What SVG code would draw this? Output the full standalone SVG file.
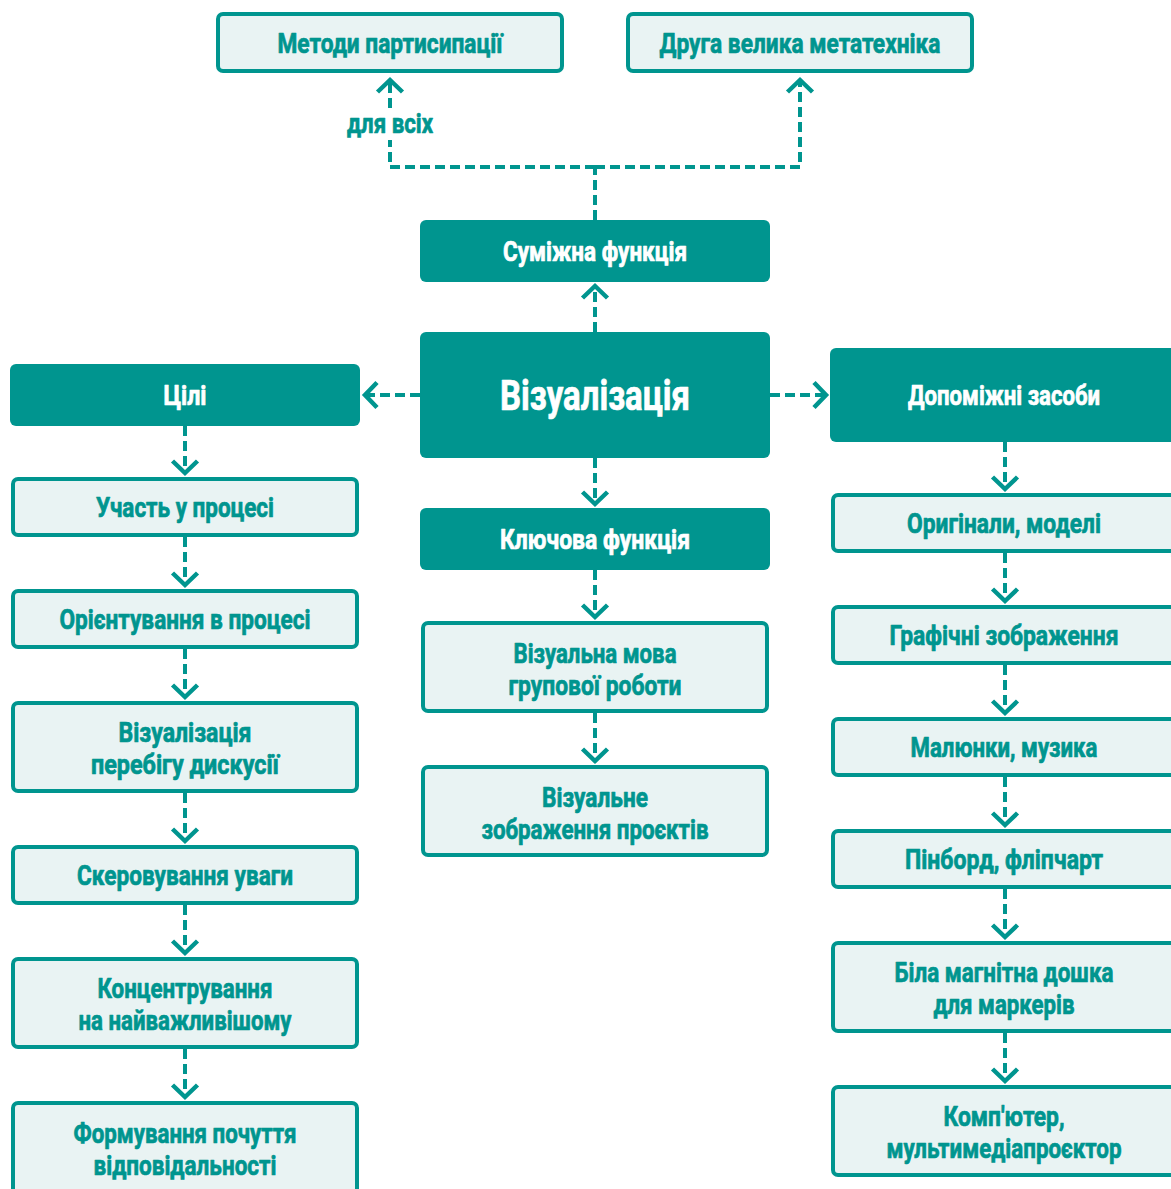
<svg xmlns="http://www.w3.org/2000/svg" width="1171" height="1189" viewBox="0 0 1171 1189">
  <defs>
    <style>
      .dark rect { fill: #00958f; }
      .light rect { fill: #e9f3f3; stroke: #00958f; stroke-width: 4; }
      text { font-family: Roboto, "Noto Sans", "DejaVu Sans", sans-serif; font-weight: 700; font-size: 27px; text-anchor: middle; stroke-width: 0.7; stroke-linejoin: round; }
      .dark text { fill: #ffffff; stroke: #ffffff; }
      .light text, .label { fill: #00958f; stroke: #00958f; }
      .big { font-size: 42px; }
      .edge { fill: none; stroke: #00958f; stroke-width: 4; stroke-dasharray: 10 5; }
    </style>
    <marker id="head" markerUnits="userSpaceOnUse" viewBox="-20 -20 40 40" markerWidth="40" markerHeight="40" refX="0" refY="0" orient="auto">
      <path d="M-12,-12.5 L0,0 L-12,12.5" fill="none" stroke="#00958f" stroke-width="4.5" stroke-dasharray="none"/>
    </marker>
  </defs>
  <rect width="1171" height="1189" fill="#ffffff"/>

  <!-- connectors -->
  <g id="connectors">
    <path class="edge" d="M595,220 V167"/>
    <path class="edge" d="M595,167 H390 V140"/>
    <path class="edge" d="M390,108 V80" marker-end="url(#head)"/>
    <path class="edge" d="M595,167 H800 V80" marker-end="url(#head)"/>
    <path class="edge" d="M595,332 V286" marker-end="url(#head)"/>
    <path class="edge" d="M420,395 H365" marker-end="url(#head)"/>
    <path class="edge" d="M770,395 H826" marker-end="url(#head)"/>
    <path class="edge" d="M595,458 V504" marker-end="url(#head)"/>
    <path class="edge" d="M595,570 V617" marker-end="url(#head)"/>
    <path class="edge" d="M595,713 V761" marker-end="url(#head)"/>
    <path class="edge" d="M185,426 V473" marker-end="url(#head)"/>
    <path class="edge" d="M185,537 V585" marker-end="url(#head)"/>
    <path class="edge" d="M185,649 V697" marker-end="url(#head)"/>
    <path class="edge" d="M185,793 V841" marker-end="url(#head)"/>
    <path class="edge" d="M185,905 V953" marker-end="url(#head)"/>
    <path class="edge" d="M185,1049 V1097" marker-end="url(#head)"/>
    <path class="edge" d="M1005,442 V489" marker-end="url(#head)"/>
    <path class="edge" d="M1005,553 V601" marker-end="url(#head)"/>
    <path class="edge" d="M1005,665 V713" marker-end="url(#head)"/>
    <path class="edge" d="M1005,777 V825" marker-end="url(#head)"/>
    <path class="edge" d="M1005,889 V937" marker-end="url(#head)"/>
    <path class="edge" d="M1005,1033 V1081" marker-end="url(#head)"/>
    <text class="label" x="390" y="133" textLength="86" lengthAdjust="spacingAndGlyphs">для всіх</text>
  </g>

  <!-- top row -->
  <g id="n-metody" class="light">
    <rect x="218" y="14" width="344" height="57" rx="5"/>
    <text x="390" y="53" textLength="225" lengthAdjust="spacingAndGlyphs">Методи партисипації</text>
  </g>
  <g id="n-metatekhnika" class="light">
    <rect x="628" y="14" width="344" height="57" rx="5"/>
    <text x="800" y="53" textLength="281" lengthAdjust="spacingAndGlyphs">Друга велика метатехніка</text>
  </g>

  <!-- centre column -->
  <g id="n-sumizhna" class="dark">
    <rect x="420" y="220" width="350" height="62" rx="6"/>
    <text x="595" y="261" textLength="184" lengthAdjust="spacingAndGlyphs">Суміжна функція</text>
  </g>
  <g id="n-vizualizatsiia" class="dark">
    <rect x="420" y="332" width="350" height="126" rx="6"/>
    <text class="big" x="595" y="410" textLength="190" lengthAdjust="spacingAndGlyphs">Візуалізація</text>
  </g>
  <g id="n-kliuchova" class="dark">
    <rect x="420" y="508" width="350" height="62" rx="6"/>
    <text x="595" y="549" textLength="190" lengthAdjust="spacingAndGlyphs">Ключова функція</text>
  </g>
  <g id="n-mova" class="light">
    <rect x="423" y="623" width="344" height="88" rx="5"/>
    <text x="595" y="663" textLength="163" lengthAdjust="spacingAndGlyphs">Візуальна мова</text>
    <text x="595" y="695" textLength="173" lengthAdjust="spacingAndGlyphs">групової роботи</text>
  </g>
  <g id="n-proiekty" class="light">
    <rect x="423" y="767" width="344" height="88" rx="5"/>
    <text x="595" y="807" textLength="106" lengthAdjust="spacingAndGlyphs">Візуальне</text>
    <text x="595" y="839" textLength="227" lengthAdjust="spacingAndGlyphs">зображення проєктів</text>
  </g>

  <!-- left column: goals -->
  <g id="n-tsili" class="dark">
    <rect x="10" y="364" width="350" height="62" rx="6"/>
    <text x="185" y="405" textLength="43" lengthAdjust="spacingAndGlyphs">Цілі</text>
  </g>
  <g id="n-uchast" class="light">
    <rect x="13" y="479" width="344" height="56" rx="5"/>
    <text x="185" y="517" textLength="178" lengthAdjust="spacingAndGlyphs">Участь у процесі</text>
  </g>
  <g id="n-oriientuvannia" class="light">
    <rect x="13" y="591" width="344" height="56" rx="5"/>
    <text x="185" y="629" textLength="251" lengthAdjust="spacingAndGlyphs">Орієнтування в процесі</text>
  </g>
  <g id="n-dyskusiia" class="light">
    <rect x="13" y="703" width="344" height="88" rx="5"/>
    <text x="185" y="742" textLength="133" lengthAdjust="spacingAndGlyphs">Візуалізація</text>
    <text x="185" y="774" textLength="188" lengthAdjust="spacingAndGlyphs">перебігу дискусії</text>
  </g>
  <g id="n-uvaga" class="light">
    <rect x="13" y="847" width="344" height="56" rx="5"/>
    <text x="185" y="885" textLength="216" lengthAdjust="spacingAndGlyphs">Скеровування уваги</text>
  </g>
  <g id="n-kontsentruvannia" class="light">
    <rect x="13" y="959" width="344" height="88" rx="5"/>
    <text x="185" y="998" textLength="175" lengthAdjust="spacingAndGlyphs">Концентрування</text>
    <text x="185" y="1030" textLength="213" lengthAdjust="spacingAndGlyphs">на найважливішому</text>
  </g>
  <g id="n-vidpovidalnist" class="light">
    <rect x="13" y="1103" width="344" height="120" rx="5"/>
    <text x="185" y="1143" textLength="223" lengthAdjust="spacingAndGlyphs">Формування почуття</text>
    <text x="185" y="1175" textLength="183" lengthAdjust="spacingAndGlyphs">відповідальності</text>
  </g>

  <!-- right column: aids -->
  <g id="n-zasoby" class="dark">
    <rect x="830" y="348" width="400" height="94" rx="6"/>
    <text x="1004" y="405" textLength="192" lengthAdjust="spacingAndGlyphs">Допоміжні засоби</text>
  </g>
  <g id="n-oryhinaly" class="light">
    <rect x="833" y="495" width="400" height="56" rx="5"/>
    <text x="1004" y="533" textLength="194" lengthAdjust="spacingAndGlyphs">Оригінали, моделі</text>
  </g>
  <g id="n-hrafika" class="light">
    <rect x="833" y="607" width="400" height="56" rx="5"/>
    <text x="1004" y="645" textLength="229" lengthAdjust="spacingAndGlyphs">Графічні зображення</text>
  </g>
  <g id="n-maliunky" class="light">
    <rect x="833" y="719" width="400" height="56" rx="5"/>
    <text x="1004" y="757" textLength="187" lengthAdjust="spacingAndGlyphs">Малюнки, музика</text>
  </g>
  <g id="n-pinbord" class="light">
    <rect x="833" y="831" width="400" height="56" rx="5"/>
    <text x="1004" y="869" textLength="198" lengthAdjust="spacingAndGlyphs">Пінборд, фліпчарт</text>
  </g>
  <g id="n-doshka" class="light">
    <rect x="833" y="943" width="400" height="88" rx="5"/>
    <text x="1004" y="982" textLength="219" lengthAdjust="spacingAndGlyphs">Біла магнітна дошка</text>
    <text x="1004" y="1014" textLength="141" lengthAdjust="spacingAndGlyphs">для маркерів</text>
  </g>
  <g id="n-kompiuter" class="light">
    <rect x="833" y="1087" width="400" height="88" rx="5"/>
    <text x="1004" y="1126" textLength="121" lengthAdjust="spacingAndGlyphs">Комп'ютер,</text>
    <text x="1004" y="1158" textLength="235" lengthAdjust="spacingAndGlyphs">мультимедіапроєктор</text>
  </g>
</svg>
